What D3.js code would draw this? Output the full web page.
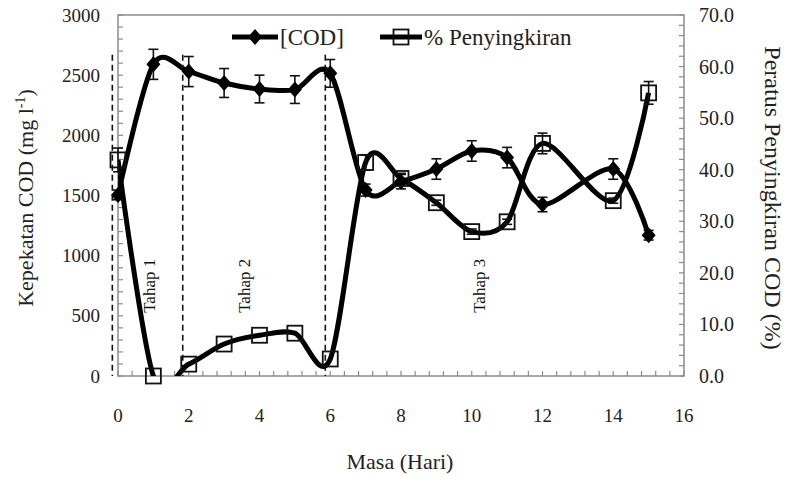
<!DOCTYPE html>
<html>
<head>
<meta charset="utf-8">
<script src="https://cdn.jsdelivr.net/npm/d3@7"></script>
<style>
  body { margin: 0; background: #fff; }
</style>
</head>
<body>
<div id="chart"></div>
<script>
"use strict"

// data
const days = [0, 1, 2, 3, 4, 5, 6, 7, 8, 9, 10, 11, 12, 14, 15];
const codValues = [1505, 2590, 2530, 2435, 2385, 2380, 2515, 1545, 1615, 1720, 1870, 1815, 1425, 1720, 1170];
const codErrors = [40, 125, 125, 120, 115, 115, 115, 50, 60, 85, 85, 85, 60, 85, 40];
const removalValues = [41.9, 0, 2.3, 6.2, 7.9, 8.3, 3.3, 41.4, 38.3, 33.6, 28.0, 29.9, 45.1, 34.0, 54.9];
const removalErrors = [2.3, 0, 0, 0, 0, 0, 0, 1.5, 1, 0.5, 0.5, 0.5, 2, 0.5, 2.2];

const stageBounds = [-0.16, 1.83, 5.86];
const stageTop = 2670;
const stageLabels = ["Tahap 1", "Tahap 2", "Tahap 3"];
const stageLabelDays = [0.88, 3.59, 10.23];
const stageLabelBase = 525;

const xTicks = [0, 2, 4, 6, 8, 10, 12, 14, 16];
const leftTicks = [0, 500, 1000, 1500, 2000, 2500, 3000];
const rightTicks = [0, 10, 20, 30, 40, 50, 60, 70];

const width = 787;
const height = 477;
const plotLeft = 118;
const plotRight = 684;
const plotTop = 15;
const plotBottom = 376;
const axisColor = "#8c8c8c";
const lineWidth = 5;
const fontFamily = "'Liberation Serif', 'Times New Roman', Times, serif";

const x = d3.scaleLinear().domain([0, 16]).range([plotLeft, plotRight]);
const yLeft = d3.scaleLinear().domain([0, 3000]).range([plotBottom, plotTop]);
const yRight = d3.scaleLinear().domain([0, 70]).range([plotBottom, plotTop]);

const svg = d3.select("#chart").append("svg")
    .attr("width", width)
    .attr("height", height)
    .attr("font-family", fontFamily)
    .style("font-family", fontFamily);

svg.append("defs").append("clipPath")
    .attr("id", "plot-clip")
  .append("rect")
    .attr("x", plotLeft)
    .attr("y", plotTop)
    .attr("width", plotRight - plotLeft)
    .attr("height", plotBottom - plotTop);

// frame
svg.append("rect")
    .attr("x", plotLeft)
    .attr("y", plotTop)
    .attr("width", plotRight - plotLeft)
    .attr("height", plotBottom - plotTop)
    .attr("fill", "none")
    .attr("stroke", axisColor)
    .attr("stroke-width", 1.5);

// minor ticks, all pointing inside
const leftMinor = d3.range(0, 3001, 100);
const rightMinor = d3.range(0, 70.01, 2);
const bottomMinor = d3.range(0, 16.01, 0.4);

svg.append("g").selectAll("line")
    .data(leftMinor)
    .join("line")
    .attr("x1", plotLeft)
    .attr("x2", plotLeft + 5)
    .attr("y1", d => yLeft(d))
    .attr("y2", d => yLeft(d))
    .attr("stroke", axisColor)
    .attr("stroke-width", 1.2);

svg.append("g").selectAll("line")
    .data(rightMinor)
    .join("line")
    .attr("x1", plotRight)
    .attr("x2", plotRight - 5)
    .attr("y1", d => yRight(d))
    .attr("y2", d => yRight(d))
    .attr("stroke", axisColor)
    .attr("stroke-width", 1.2);

svg.append("g").selectAll("line")
    .data(bottomMinor)
    .join("line")
    .attr("x1", d => x(d))
    .attr("x2", d => x(d))
    .attr("y1", plotBottom)
    .attr("y2", plotBottom - 5)
    .attr("stroke", axisColor)
    .attr("stroke-width", 1.2);

// tick labels
svg.append("g").selectAll("text")
    .data(leftTicks)
    .join("text")
    .attr("x", 100)
    .attr("y", d => yLeft(d))
    .attr("dy", "0.35em")
    .attr("text-anchor", "end")
    .attr("font-size", 19)
    .attr("fill", "#222")
    .text(d => d);

svg.append("g").selectAll("text")
    .data(rightTicks)
    .join("text")
    .attr("x", 699)
    .attr("y", d => yRight(d))
    .attr("dy", "0.35em")
    .attr("text-anchor", "start")
    .attr("font-size", 20)
    .attr("fill", "#222")
    .text(d => d.toFixed(1));

svg.append("g").selectAll("text")
    .data(xTicks)
    .join("text")
    .attr("x", d => x(d))
    .attr("y", 415)
    .attr("dy", "0.35em")
    .attr("text-anchor", "middle")
    .attr("font-size", 19)
    .attr("fill", "#222")
    .text(d => d);

// axis titles
const leftTitle = svg.append("text")
    .attr("transform", "translate(33,198) rotate(-90)")
    .attr("text-anchor", "middle")
    .attr("font-size", 22)
    .attr("fill", "#222");
leftTitle.append("tspan").text("Kepekatan COD (mg l");
leftTitle.append("tspan").attr("font-size", 14).attr("dy", -8).text("-1");
leftTitle.append("tspan").attr("dy", 8).text(")");

svg.append("text")
    .attr("transform", "translate(765,198) rotate(90)")
    .attr("text-anchor", "middle")
    .attr("font-size", 24)
    .attr("fill", "#222")
    .text("Peratus Penyingkiran COD (%)");

svg.append("text")
    .attr("x", 400)
    .attr("y", 469)
    .attr("text-anchor", "middle")
    .attr("font-size", 22)
    .attr("fill", "#222")
    .text("Masa (Hari)");

// stage boundaries
svg.append("g").selectAll("line")
    .data(stageBounds)
    .join("line")
    .attr("x1", d => x(d))
    .attr("x2", d => x(d))
    .attr("y1", yLeft(stageTop))
    .attr("y2", plotBottom)
    .attr("stroke", "#111")
    .attr("stroke-width", 1.6)
    .attr("stroke-dasharray", "6,4");

svg.append("g").selectAll("text")
    .data(stageLabels)
    .join("text")
    .attr("transform", (d, i) => `translate(${x(stageLabelDays[i])},${yLeft(stageLabelBase)}) rotate(-90)`)
    .attr("dy", "0.32em")
    .attr("text-anchor", "start")
    .attr("font-size", 17)
    .attr("fill", "#111")
    .text(d => d);

const codPoints = days.map((d, i) => ({ day: d, value: codValues[i], err: codErrors[i] }));
const removalPoints = days.map((d, i) => ({ day: d, value: removalValues[i], err: removalErrors[i] }));

const plot = svg.append("g").attr("clip-path", "url(#plot-clip)");

function DrawErrorBars(points, yScale)
{
    const g = svg.append("g")
        .attr("stroke", "#111")
        .attr("stroke-width", 1.6);
    const bars = points.filter(p => p.err > 0);
    g.selectAll(".stem")
        .data(bars)
        .join("line")
        .attr("x1", p => x(p.day))
        .attr("x2", p => x(p.day))
        .attr("y1", p => yScale(p.value + p.err))
        .attr("y2", p => yScale(p.value - p.err));
    g.selectAll(".cap-top")
        .data(bars)
        .join("line")
        .attr("x1", p => x(p.day) - 5)
        .attr("x2", p => x(p.day) + 5)
        .attr("y1", p => yScale(p.value + p.err))
        .attr("y2", p => yScale(p.value + p.err));
    g.selectAll(".cap-bottom")
        .data(bars)
        .join("line")
        .attr("x1", p => x(p.day) - 5)
        .attr("x2", p => x(p.day) + 5)
        .attr("y1", p => yScale(p.value - p.err))
        .attr("y2", p => yScale(p.value - p.err));
}

DrawErrorBars(codPoints, yLeft);
DrawErrorBars(removalPoints, yRight);

const codLine = d3.line()
    .x(p => x(p.day))
    .y(p => yLeft(p.value))
    .curve(d3.curveCardinal.tension(0.1));

const removalLine = d3.line()
    .x(p => x(p.day))
    .y(p => yRight(p.value))
    .curve(d3.curveCardinal.tension(0.1));

plot.append("path")
    .attr("d", codLine(codPoints))
    .attr("fill", "none")
    .attr("stroke", "#000")
    .attr("stroke-width", lineWidth)
    .attr("stroke-linejoin", "round");

plot.append("path")
    .attr("d", removalLine(removalPoints))
    .attr("fill", "none")
    .attr("stroke", "#000")
    .attr("stroke-width", lineWidth)
    .attr("stroke-linejoin", "round");

const diamond = "M0,-8L7,0L0,8L-7,0Z";

svg.append("g").selectAll("path")
    .data(codPoints)
    .join("path")
    .attr("transform", p => `translate(${x(p.day)},${yLeft(p.value)})`)
    .attr("d", diamond)
    .attr("fill", "#000");

svg.append("g").selectAll("rect")
    .data(removalPoints)
    .join("rect")
    .attr("x", p => x(p.day) - 7.5)
    .attr("y", p => yRight(p.value) - 7.5)
    .attr("width", 15)
    .attr("height", 15)
    .attr("fill", "none")
    .attr("stroke", "#111")
    .attr("stroke-width", 1.8);

// legend
const legend = svg.append("g").attr("transform", "translate(0,37)");
legend.append("line")
    .attr("x1", 232).attr("x2", 278)
    .attr("stroke", "#000").attr("stroke-width", lineWidth);
legend.append("path")
    .attr("transform", "translate(255,0)")
    .attr("d", diamond)
    .attr("fill", "#000");
legend.append("text")
    .attr("x", 280).attr("dy", "0.35em")
    .attr("font-size", 23).attr("fill", "#222")
    .text("[COD]");
legend.append("line")
    .attr("x1", 380).attr("x2", 422)
    .attr("stroke", "#000").attr("stroke-width", lineWidth);
legend.append("rect")
    .attr("x", 393.5).attr("y", -7.5)
    .attr("width", 15).attr("height", 15)
    .attr("fill", "none").attr("stroke", "#111").attr("stroke-width", 1.8);
legend.append("text")
    .attr("x", 424).attr("dy", "0.35em")
    .attr("font-size", 23).attr("fill", "#222")
    .text("% Penyingkiran");
</script>
</body>
</html>
